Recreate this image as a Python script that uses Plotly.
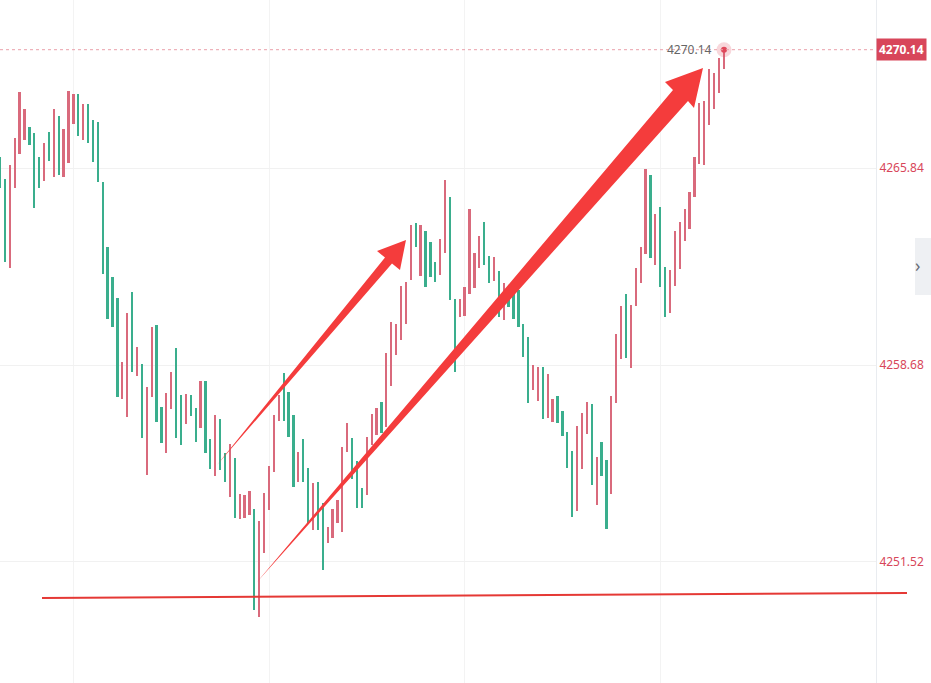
import plotly.graph_objects as go

# bar index, high / low of each bar, direction (U = up/red, D = down/teal)
highs = [
    4266.24, 4265.44, 4265.95, 4266.93, 4268.61, 4267.99, 4267.33, 4267.12, 4266.24, 4266.75,
    4267.15, 4267.99, 4267.73, 4267.26, 4268.64, 4268.53, 4268.53, 4268.17, 4268.17, 4267.59,
    4267.52, 4265.33, 4262.97, 4261.88, 4261.12, 4258.79, 4260.57, 4261.34, 4259.34, 4258.72,
    4257.88, 4260.06, 4260.14, 4257.16, 4257.66, 4258.43, 4259.30, 4257.59, 4257.63, 4257.59,
    4257.12, 4258.10, 4258.10, 4255.99, 4256.87, 4256.72, 4255.48, 4255.81, 4255.30, 4253.99,
    4253.96, 4254.10, 4253.45, 4253.01, 4254.03, 4255.01, 4256.87, 4257.59, 4258.39, 4257.70,
    4256.87, 4255.52, 4255.99, 4254.94, 4254.39, 4254.43, 4253.67, 4252.79, 4253.45, 4253.78,
    4255.70, 4256.57, 4256.03, 4255.19, 4254.21, 4256.07, 4256.90, 4257.12, 4257.34, 4259.12,
    4260.25, 4260.17, 4261.55, 4261.70, 4263.77, 4263.84, 4263.77, 4263.55, 4263.15, 4262.43,
    4263.26, 4265.41, 4264.79, 4261.08, 4261.08, 4261.52, 4264.35, 4262.75, 4263.37, 4263.88,
    4262.64, 4262.61, 4262.10, 4261.66, 4261.34, 4261.41, 4261.41, 4260.17, 4259.70, 4258.68,
    4258.61, 4258.61, 4258.36, 4257.45, 4257.56, 4257.01, 4256.25, 4255.56, 4256.46, 4256.94,
    4257.34, 4257.27, 4255.34, 4255.88, 4255.23, 4257.56, 4259.81, 4260.83, 4261.26, 4260.86,
    4262.21, 4262.97, 4265.81, 4265.59, 4264.17, 4264.43, 4262.25, 4262.14, 4263.55, 4263.88,
    4264.35, 4264.97, 4266.24, 4268.21, 4268.28, 4269.44, 4269.30, 4269.84, 4270.24,
]
lows = [
    4265.12, 4262.43, 4262.21, 4265.12, 4266.35, 4266.86, 4266.68, 4264.39, 4265.12, 4265.37,
    4266.10, 4265.52, 4265.59, 4265.52, 4266.03, 4267.44, 4267.01, 4266.86, 4266.75, 4266.06,
    4265.33, 4261.99, 4260.35, 4260.06, 4257.52, 4257.45, 4256.79, 4258.43, 4258.28, 4256.03,
    4254.68, 4257.52, 4256.61, 4255.85, 4255.48, 4257.08, 4256.03, 4255.77, 4256.54, 4256.83,
    4255.88, 4256.39, 4255.48, 4254.90, 4254.65, 4254.87, 4254.43, 4253.88, 4253.12, 4253.08,
    4253.12, 4253.23, 4249.78, 4249.52, 4251.85, 4253.41, 4254.79, 4256.65, 4256.65, 4256.07,
    4254.25, 4254.43, 4254.43, 4252.94, 4252.68, 4252.68, 4251.23, 4252.21, 4252.39, 4252.94,
    4252.61, 4255.52, 4254.54, 4253.48, 4253.48, 4253.96, 4255.77, 4256.14, 4256.21, 4256.43,
    4257.92, 4259.05, 4259.59, 4260.17, 4261.77, 4262.97, 4261.92, 4261.52, 4261.88, 4261.70,
    4261.95, 4262.75, 4261.05, 4258.43, 4260.43, 4260.46, 4261.26, 4261.48, 4262.21, 4262.32,
    4261.66, 4261.74, 4260.43, 4260.32, 4260.79, 4260.35, 4260.06, 4258.97, 4257.30, 4257.77,
    4257.37, 4256.72, 4256.76, 4256.61, 4256.57, 4256.10, 4254.94, 4253.16, 4253.38, 4254.90,
    4256.17, 4254.32, 4253.59, 4254.65, 4252.72, 4253.99, 4257.30, 4258.90, 4258.94, 4258.57,
    4260.83, 4261.66, 4262.72, 4262.57, 4262.32, 4261.52, 4260.43, 4260.57, 4261.55, 4262.17,
    4263.19, 4263.63, 4264.79, 4265.99, 4265.95, 4267.41, 4267.99, 4268.57, 4269.44,
]
direction = list("".join([
    "DDUUUUDDDU", "DUDUUUDUDD", "DDDDDUUDUD", "UUDDUUDDUD", "DUDDUDDUDU",
    "UUDUUUUUDD", "DUDDUDDUUU", "UUDDDUUUDU", "UUUUUDUDDD", "UUDDUUUUUD",
    "DUDUDDDDDU", "UDUUDDDDUU", "UDUDDUUUDU", "UUUDUDDUUU", "UUUUUUUUU",
]))
bar_index = list(range(len(highs)))

last_price = 4270.14
price_ticks = [4251.52, 4258.68, 4265.84]
time_grid = [15, 55, 95, 135]

UP = "#d96a7c"
DOWN = "#3aae8d"
ARROW = "#f43c3c"

W, H = 931, 683
PLOT_W = 876  # plot area width in px, y axis on the right


def px(x):
    return x / PLOT_W


def py(y):
    return 1 - y / H


def path(points):
    pts = [f"{px(x):.5f},{py(y):.5f}" for x, y in points]
    return "M " + " L ".join(pts) + " Z"


colors = [UP if d == "U" else DOWN for d in direction]

fig = go.Figure()

fig.add_trace(go.Bar(
    x=bar_index,
    base=lows,
    y=[h - l for h, l in zip(highs, lows)],
    width=0.36,
    marker=dict(color=colors, line=dict(width=0)),
    hoverinfo="skip",
    showlegend=False,
))

# last price marker with glow
fig.add_trace(go.Scatter(
    x=[bar_index[-1]], y=[last_price], mode="markers",
    marker=dict(size=15, color="rgba(224,72,90,0.22)"),
    hoverinfo="skip", showlegend=False,
))
fig.add_trace(go.Scatter(
    x=[bar_index[-1]], y=[last_price], mode="markers",
    marker=dict(size=6, color="#e0485a"),
    hoverinfo="skip", showlegend=False,
))

shapes = []
# dotted last price line
shapes.append(dict(type="line", xref="paper", yref="y", x0=0, x1=1,
                   y0=last_price, y1=last_price,
                   line=dict(color="#eba0aa", width=1, dash="dot")))
# hand drawn trend line
shapes.append(dict(type="line", xref="paper", yref="paper",
                   x0=px(42), y0=py(598), x1=px(907), y1=py(593),
                   line=dict(color="#e53935", width=2)))
# hand drawn arrows
arrow1 = [(217, 465), (385, 257.6), (377, 251), (406, 240), (400, 270), (392, 263.4)]
arrow2 = [(257, 582), (673, 90), (665, 82), (703, 68), (694, 108), (688, 101)]
for a in (arrow1, arrow2):
    shapes.append(dict(type="path", xref="paper", yref="paper", path=path(a),
                       fillcolor=ARROW, line=dict(width=0)))
# side collapse button
shapes.append(dict(type="rect", xref="paper", yref="paper",
                   x0=px(915), x1=px(935), y0=py(238), y1=py(295),
                   fillcolor="#eef0f3", line=dict(width=0)))

annotations = [
    dict(xref="paper", yref="y", x=1, y=last_price, xanchor="left",
         text="<b>4270.14</b>", showarrow=False, bgcolor="#d8465a",
         font=dict(color="white", size=12, family="Noto Sans"), borderpad=2),
    dict(xref="x", yref="y", x=bar_index[-1], y=last_price, xanchor="right",
         xshift=-10, text="4270.14", showarrow=False,
         font=dict(color="#666666", size=12, family="Noto Sans")),
    dict(xref="paper", yref="paper", x=px(922), y=py(265), text="›",
         showarrow=False, font=dict(color="#666a73", size=18)),
]

fig.update_layout(
    width=W, height=H,
    margin=dict(l=0, r=W - PLOT_W, t=0, b=0),
    plot_bgcolor="white", paper_bgcolor="white",
    bargap=0,
    shapes=shapes,
    annotations=annotations,
    xaxis=dict(range=[-0.06, 179.08], tickvals=time_grid, showticklabels=False,
               showgrid=True, gridcolor="#f3f3f3", zeroline=False, ticks=""),
    yaxis=dict(range=[4247.122, 4271.946], side="right", tickvals=price_ticks,
               ticktext=[f"{v:.2f}" for v in price_ticks],
               tickfont=dict(color="#d8465a", size=12, family="Noto Sans"),
               showgrid=True, gridcolor="#f1f1f1", zeroline=False, ticks="",
               showline=True, linecolor="#e9ecf0", linewidth=1),
)

fig.write_html("out.html", config={"displayModeBar": False},
               post_script="document.body.style.margin='0';")
